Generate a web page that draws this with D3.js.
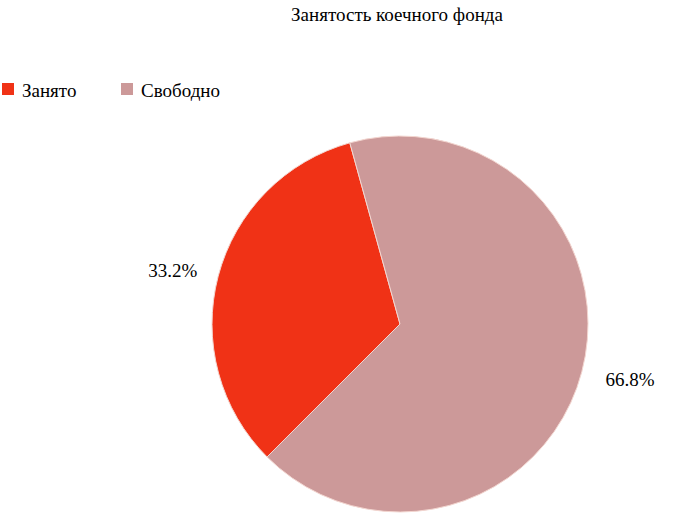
<!DOCTYPE html>
<html><head><meta charset="utf-8">
<script src="https://cdn.jsdelivr.net/npm/d3@7"></script>
<style>body{margin:0;background:#fff}svg{display:block}</style>
</head><body><svg id="c" width="675" height="514"></svg>
<script>
const title = "Занятость коечного фонда";
const categories = ["Занято", "Свободно"];
const values = [33.2, 66.8];
const colors = ["#F03216", "#CC9999"];
const FONT = "'Liberation Serif'";
const FS = "19px";

const svg = d3.select("#c");
svg.append("text").attr("x", 397).attr("y", 21).attr("text-anchor", "middle")
  .style("font-family", FONT).style("font-size", FS).attr("fill", "#000").text(title);

const legend = svg.append("g");
const lx = [2, 121];
categories.forEach((c, i) => {
  legend.append("rect").attr("x", lx[i]).attr("y", 83).attr("width", 12).attr("height", 12).attr("fill", colors[i]);
  legend.append("text").attr("x", lx[i] + 20).attr("y", 97)
    .style("font-family", FONT).style("font-size", FS).attr("fill", "#000").text(c);
});

const cx = 400, cy = 324, r = 188;
const a0 = -135 * Math.PI / 180;
const pie = d3.pie().sort(null).value(d => d).startAngle(a0).endAngle(a0 + 2 * Math.PI);
const arcs = pie(values);
const arc = d3.arc().innerRadius(0).outerRadius(r);
const g = svg.append("g").attr("transform", `translate(${cx},${cy})`);
g.selectAll("path").data(arcs).join("path").attr("d", arc)
  .attr("fill", (d, i) => colors[i]).attr("stroke", "#f3d6d0").attr("stroke-width", 1);

const labelArc = d3.arc().innerRadius(r + 50).outerRadius(r + 50);
g.selectAll("text.lbl").data(arcs).join("text").attr("class", "lbl")
  .attr("transform", (d, i) => { const [x, y] = labelArc.centroid(d); return `translate(${x + (i ? 0 : 3)},${y + (i ? -5 : 7)})`; })
  .attr("text-anchor", "middle").attr("dy", "0.35em")
  .style("font-family", FONT).style("font-size", FS).attr("fill", "#000")
  .text(d => d.data.toFixed(1) + "%");
</script></body></html>
